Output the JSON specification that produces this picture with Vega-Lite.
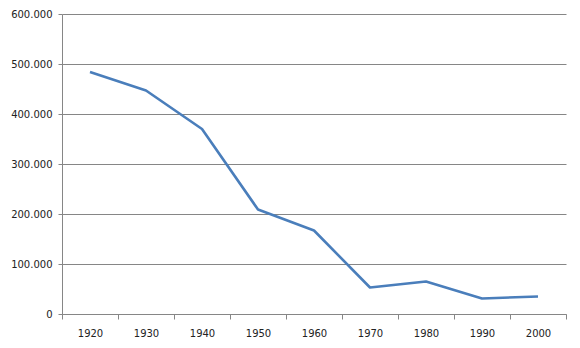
{
  "$schema": "https://vega.github.io/schema/vega-lite/v6.json",
  "width": 504,
  "height": 300,
  "autosize": {"type": "none"},
  "padding": {"left": 62, "top": 14, "right": 14, "bottom": 34},
  "background": "white",
  "config": {
    "view": {"stroke": null},
    "locale": {"number": {"decimal": ",", "thousands": ".", "grouping": [3], "currency": ["", " €"]}},
    "axis": {"labelFont": "DejaVu Sans", "labelFontSize": 10, "labelColor": "#222222", "domainColor": "#868686", "tickColor": "#868686", "gridColor": "#868686", "titleFont": "DejaVu Sans"}
  },
  "data": {
    "values": [
      {"year": "1920", "value": 484000},
      {"year": "1930", "value": 447000},
      {"year": "1940", "value": 370000},
      {"year": "1950", "value": 209000},
      {"year": "1960", "value": 167000},
      {"year": "1970", "value": 53000},
      {"year": "1980", "value": 65000},
      {"year": "1990", "value": 31000},
      {"year": "2000", "value": 35000}
    ]
  },
  "mark": {"type": "line", "color": "#4a7ebb", "strokeWidth": 2.6, "strokeJoin": "round"},
  "encoding": {
    "x": {
      "field": "year", "type": "ordinal", "bandPosition": 0.5,
      "scale": {"type": "band", "paddingInner": 0, "paddingOuter": 0},
      "axis": {"title": null, "labelAngle": 0, "tickBand": "extent", "tickSize": 5, "labelPadding": 9, "grid": false}
    },
    "y": {
      "field": "value", "type": "quantitative",
      "scale": {"domain": [0, 600000], "nice": false, "zero": true},
      "axis": {"title": null, "values": [0, 100000, 200000, 300000, 400000, 500000, 600000], "format": ",d", "tickSize": 4, "labelPadding": 6, "grid": true}
    }
  }
}
